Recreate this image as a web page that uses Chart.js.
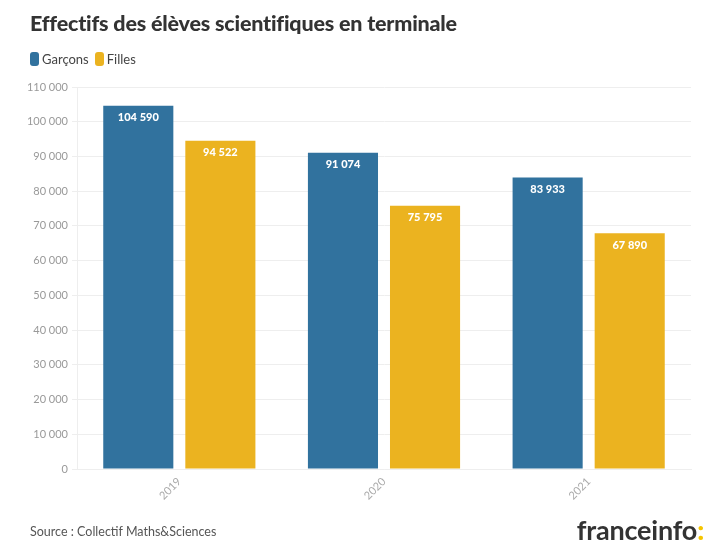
<!DOCTYPE html>
<html>
<head>
<meta charset="utf-8">
<script src="https://cdn.jsdelivr.net/npm/chart.js@4"></script>
<style>
  body { margin:0; background:#fff; font-family: Lato, "Open Sans", sans-serif; }
  #wrap { position:relative; width:720px; height:556px; overflow:hidden; }
  #chart { position:absolute; left:0; top:0; }
  h1 { position:absolute; left:30px; top:10px; margin:0; font-size:21.5px; font-weight:900; color:#333; letter-spacing:-0.2px; }
  #legend { position:absolute; left:30px; top:51px; font-size:13px; color:#444; display:flex; gap:6px; }
  #legend span { display:flex; align-items:center; }
  #legend i { display:inline-block; width:9px; height:14px; border-radius:3px; margin-right:3px; }
  #source { position:absolute; left:30px; top:524px; font-size:12.5px; color:#555; }
  #logo { position:absolute; right:16px; top:513px; font-size:27px; font-weight:700; color:#333; letter-spacing:-0.2px; }
  #logo b { color:#f5c500; }
</style>
</head>
<body>
<div id="wrap">
  <canvas id="chart" width="720" height="556"></canvas>
  <h1>Effectifs des élèves scientifiques en terminale</h1>
  <div id="legend">
    <span><i style="background:#31729e"></i>Garçons</span>
    <span><i style="background:#ebb320"></i>Filles</span>
  </div>
  <div id="source">Source : Collectif Maths&amp;Sciences</div>
  <div id="logo">franceinfo<b>:</b></div>
</div>
<script>
// données
const years = ['2019', '2020', '2021'];
const garcons = [104590, 91074, 83933];
const filles = [94522, 75795, 67890];

const fmt = v => String(v).replace(/\B(?=(\d{3})+(?!\d))/g, '\u202f');

// étiquettes blanches en haut des barres
const barLabels = {
  id: 'barLabels',
  afterDatasetsDraw(chart) {
    const ctx = chart.ctx;
    ctx.save();
    ctx.fillStyle = '#fff';
    ctx.font = '900 11px Lato, "Open Sans", sans-serif';
    ctx.textAlign = 'center';
    ctx.textBaseline = 'middle';
    chart.data.datasets.forEach((ds, i) => {
      chart.getDatasetMeta(i).data.forEach((bar, j) => {
        ctx.fillText(fmt(ds.data[j]), bar.x, bar.y + 12);
      });
    });
    ctx.restore();
  }
};

const chart = new Chart(document.getElementById('chart'), {
  type: 'bar',
  data: {
    labels: years,
    datasets: [
      {label:'Garçons', data:garcons, backgroundColor:'#31729e'},
      {label:'Filles', data:filles, backgroundColor:'#ebb320'}
    ]
  },
  options: {
    responsive: false,
    animation: false,
    categoryPercentage: 0.802,
    barPercentage: 0.854,
    layout: { padding: {left:0, top:87, right:29, bottom:0} },
    plugins: { legend: {display:false}, tooltip: {enabled:false} },
    scales: {
      x: {
        grid: { display:false },
        border: { color:'#eee' },
        ticks: { color:'#aaa', font:{size:11, family:'Lato'}, minRotation:45, maxRotation:45, padding:-2 },
        afterFit: s => { s.height = 87; }
      },
      y: {
        min: 0, max: 110000,
        ticks: { stepSize:10000, color:'#999', font:{size:11, family:'Lato'}, callback: v => fmt(v), padding:4 },
        grid: { color:'#eee', tickLength:5 },
        border: { color:'#eee' },
        afterFit: s => { s.width = 77; }
      }
    }
  },
  plugins: [barLabels]
});
</script>
</body>
</html>
